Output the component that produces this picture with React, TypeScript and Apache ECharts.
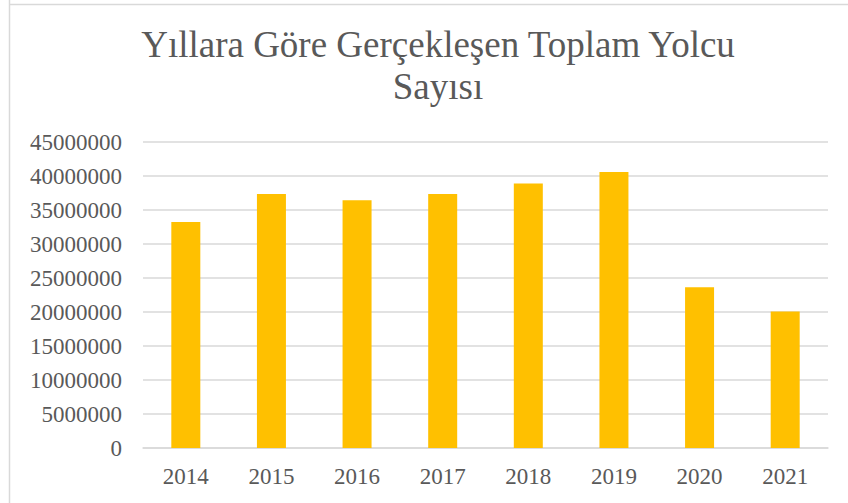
import React, { useEffect, useRef } from "react";
import * as echarts from "echarts";

const categories = ["2014", "2015", "2016", "2017", "2018", "2019", "2020", "2021"];
const passengers = [33240000, 37350000, 36430000, 37350000, 38880000, 40590000, 23630000, 20060000];
const titleText = "Yıllara Göre Gerçekleşen Toplam Yolcu\nSayısı";

export default function App() {
  const ref = useRef<HTMLDivElement>(null);
  useEffect(() => {
    document.body.style.margin = "0";
    const chart = echarts.init(ref.current!, null, { renderer: "svg" });
    const font = "'Liberation Serif', 'Times New Roman', serif";
    chart.setOption({
      animation: false,
      backgroundColor: "#ffffff",
      title: {
        text: titleText,
        left: 433,
        top: 18,
        textAlign: "center",
        textStyle: {
          fontFamily: font,
          fontSize: 37,
          fontWeight: "normal",
          color: "#595959",
          lineHeight: 42,
        },
      },
      graphic: [
        {
          type: "line",
          shape: { x1: 9.5, y1: 0, x2: 9.5, y2: 503 },
          style: { stroke: "#d9d9d9", lineWidth: 1.5 },
        },
        {
          type: "line",
          shape: { x1: 9, y1: 4.5, x2: 848, y2: 4.5 },
          style: { stroke: "#d9d9d9", lineWidth: 1.5 },
        },
      ],
      grid: { left: 143, right: 20, top: 142, bottom: 55 },
      xAxis: {
        type: "category",
        data: categories,
        axisLine: { show: true, lineStyle: { color: "#d9d9d9", width: 1.5 } },
        axisTick: { show: false },
        axisLabel: { fontFamily: font, fontSize: 23, color: "#595959", margin: 17 },
      },
      yAxis: {
        type: "value",
        min: 0,
        max: 45000000,
        interval: 5000000,
        axisLine: { show: false },
        axisTick: { show: false },
        splitLine: { lineStyle: { color: "#d9d9d9", width: 1.5 } },
        axisLabel: {
          fontFamily: font,
          fontSize: 23,
          color: "#595959",
          margin: 21,
          formatter: (v: number) => String(v),
        },
      },
      series: [
        {
          type: "bar",
          data: passengers,
          barWidth: 29,
          itemStyle: { color: "#FFC000" },
        },
      ],
    });
    return () => chart.dispose();
  }, []);
  return <div ref={ref} style={{ width: 848, height: 503 }} />;
}
